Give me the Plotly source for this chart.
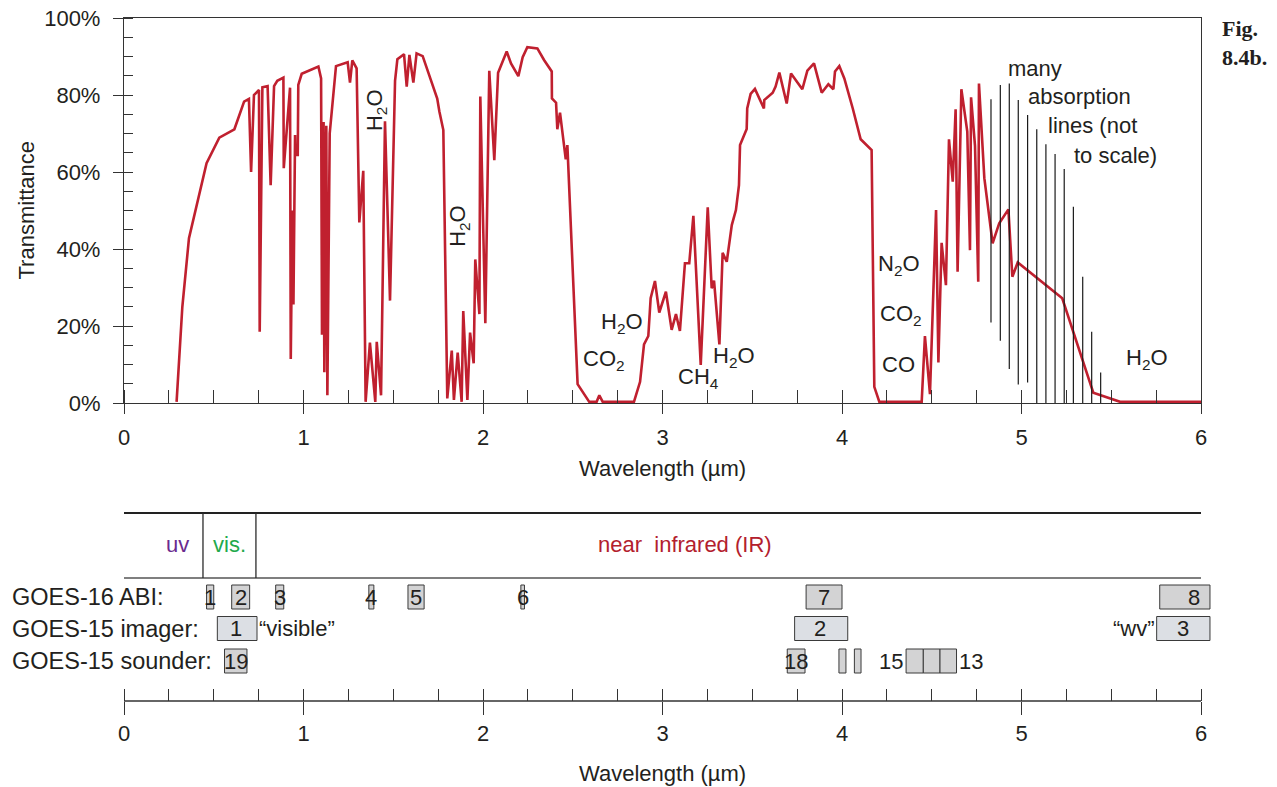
import plotly.graph_objects as go

W, H = 1277, 787
FONT = "Liberation Sans, Arial, Helvetica, sans-serif"
INK = "#231f20"
RED = "#c0202f"
FS = 22
FS_ROW = 23.5

# ---------------- data: atmospheric transmittance curve ----------------
wavelength_um = [
    0.293, 0.325, 0.362, 0.46, 0.531, 0.615, 0.669, 0.696, 0.708, 0.724,
    0.752, 0.756, 0.771, 0.80, 0.817, 0.836, 0.854, 0.888, 0.89, 0.925,
    0.929, 0.938, 0.944, 0.953, 0.955, 0.968, 0.971, 0.99, 1.083, 1.098,
    1.103, 1.112, 1.116, 1.127, 1.133, 1.146, 1.181, 1.246, 1.259, 1.272,
    1.296, 1.311, 1.333, 1.346, 1.37, 1.40, 1.408, 1.432, 1.454, 1.482,
    1.51, 1.523, 1.56, 1.575, 1.59, 1.612, 1.63, 1.664, 1.714, 1.745,
    1.757, 1.779, 1.801, 1.826, 1.838, 1.859, 1.881, 1.89, 1.913, 1.928,
    1.948, 1.957, 1.98, 1.985, 2.013, 2.035, 2.063, 2.084, 2.132, 2.156,
    2.197, 2.221, 2.247, 2.303, 2.34, 2.383, 2.384, 2.407, 2.414, 2.429,
    2.461, 2.47, 2.527, 2.559, 2.592, 2.633, 2.648, 2.667, 2.841, 2.875,
    2.897, 2.921, 2.934, 2.958, 2.982, 3.019, 3.051, 3.075, 3.097, 3.125,
    3.149, 3.172, 3.213, 3.252, 3.274, 3.287, 3.317, 3.335, 3.358, 3.386,
    3.409, 3.426, 3.432, 3.469, 3.472, 3.491, 3.515, 3.565, 3.567, 3.614,
    3.63, 3.651, 3.692, 3.716, 3.779, 3.807, 3.844, 3.887, 3.924, 3.952,
    3.961, 3.985, 4.013, 4.06, 4.104, 4.165, 4.18, 4.208, 4.444, 4.462,
    4.49, 4.524, 4.537, 4.555, 4.579, 4.587, 4.596, 4.617, 4.633, 4.644,
    4.665, 4.698, 4.713, 4.719, 4.741, 4.759, 4.763, 4.793, 4.839, 4.876,
    4.927, 4.949, 4.979, 5.227, 5.40, 5.549, 6.0,
]
transmittance_pct = [
    0.3, 25, 42.8, 62.3, 68.9, 71.1, 78.3, 79, 60, 80,
    81.3, 18.5, 82, 82.3, 56.6, 82.3, 83.7, 84.5, 61, 81.9,
    11.4, 50, 25.6, 69.6, 64.4, 64.4, 82.6, 85.5, 87.4, 84.3,
    17.7, 73, 8, 72, 2, 70, 87.5, 88.5, 83.2, 89,
    86.9, 46.9, 60.3, 0.3, 15.7, 0.3, 15.9, 2, 73.2, 26.6,
    83.7, 89.3, 90.6, 82.2, 90.4, 83.2, 90.8, 90.1, 83, 79.1,
    75.7, 70.9, 1.2, 13.6, 0.8, 13.1, 0.3, 23.9, 0.8, 18.3,
    10.3, 37.3, 23.1, 79.6, 20.7, 86.3, 63.1, 85.8, 91.3, 88.2,
    84.9, 89.8, 92.4, 92.1, 89.1, 86.1, 79.1, 78, 71.1, 75.4,
    63.3, 67, 4.9, 2.5, 0.3, 0.3, 2, 0.3, 0.3, 5.5,
    15.2, 17.4, 27.2, 31.7, 23.5, 28.9, 19, 23.1, 18.7, 36.3,
    36.3, 48.6, 9.9, 50.8, 29.8, 31.8, 15.2, 39, 36.7, 46.2,
    50.1, 56.6, 67, 71.2, 76.5, 80.3, 81.6, 76.5, 78.7, 80.6,
    82.2, 85.8, 77.8, 85.6, 81.5, 86.3, 88.2, 80.6, 82.8, 81.5,
    86.1, 87.5, 84.3, 76.5, 68.5, 65.7, 4.2, 0.3, 0.3, 17.4,
    2.3, 50.1, 10.5, 41.6, 30.6, 48.4, 68.5, 57.5, 76.3, 34.1,
    81.5, 70.5, 39.7, 79.4, 66.8, 31.5, 83, 58.4, 41.5, 46.7,
    50.3, 32.8, 36.5, 27.2, 2.7, 0.3, 0.3,
]

# "many absorption lines" (schematic vertical lines)
absorb_line_um = [4.830, 4.882, 4.932, 4.982, 5.034, 5.085, 5.136, 5.187,
                  5.238, 5.289, 5.341, 5.391, 5.441]
absorb_line_top = [78.9, 82.6, 83.0, 78.7, 74.8, 71.1, 67.2, 64.7,
                   60.8, 51.0, 32.8, 18.5, 7.9]
absorb_line_bottom = [20.9, 16.2, 8.8, 4.8, 5.3, 0, 0, 0, 0, 0, 0, 0, 0]

# gas labels on the transmittance panel
gas_labels = ["H<sub>2</sub>O", "H<sub>2</sub>O", "H<sub>2</sub>O", "CO<sub>2</sub>",
              "CH<sub>4</sub>", "H<sub>2</sub>O", "N<sub>2</sub>O", "CO<sub>2</sub>",
              "CO", "H<sub>2</sub>O"]
gas_label_um = [1.404, 1.866, 2.774, 2.674, 3.198, 3.398, 4.318, 4.329, 4.312, 5.699]
gas_label_pct = [76.1, 46.0, 20.8, 11.2, 6.5, 11.9, 35.8, 22.9, 9.9, 11.4]
gas_label_angle = [-90, -90, 0, 0, 0, 0, 0, 0, 0, 0]

note_lines = ["many", "absorption", "lines (not", "to scale)"]
note_um = [4.914, 5.025, 5.136, 5.281]
note_pct = [86.8, 79.5, 72.2, 64.4]

# axis ticks
x_major = [i * 0.5 for i in range(13)]
x_ticktext = [str(int(v)) if v == int(v) else "" for v in x_major]
y_major = list(range(0, 101, 10))
y_ticktext = [f"{v}%" if v % 20 == 0 else "" for v in y_major]

# ---------------- data: spectral regions & satellite channels ----------------
region_names = ["uv", "vis.", "near\u00a0 infrared (IR)"]
region_label_um = [0.30, 0.59, 3.125]
region_colors = ["#6a2a8e", "#22a94b", "#b3202d"]
region_bounds_um = [0.44, 0.735]

abi_names = ["1", "2", "3", "4", "5", "6", "7", "8"]
abi_start = [0.46, 0.60, 0.845, 1.364, 1.582, 2.211, 3.80, 5.77]
abi_end = [0.50, 0.70, 0.89, 1.392, 1.672, 2.231, 4.00, 6.05]
abi_label_um = [0.48, 0.65, 0.868, 1.378, 1.627, 2.221, 3.90, 5.96]

imager_names = ["1", "2", "3"]
imager_start = [0.52, 3.736, 5.753]
imager_end = [0.741, 4.032, 6.05]
imager_label_um = [0.625, 3.88, 5.90]

sounder_names = ["19", "18", "", "", "", "", ""]
sounder_start = [0.56, 3.695, 3.983, 4.069, 4.357, 4.453, 4.546]
sounder_end = [0.685, 3.794, 4.022, 4.106, 4.453, 4.546, 4.638]
sounder_label_um = [0.622, 3.745, None, None, None, None, None]

row_names = ["GOES-16 ABI:", "GOES-15 imager:", "GOES-15 sounder:"]

# ---------------- layout geometry (pixels) ----------------
X0_PX, X6_PX = 124, 1201
PX_PER_UM = (X6_PX - X0_PX) / 6.0
TOP_Y0_PX, TOP_Y100_PX = 403, 18
BOT_AXIS_PX = 701
BOT_TOP_PX = 500
BOT_BOTTOM_PX = 712
X2_MAX = 6.1


def py(p):  # pixel y -> paper
    return 1 - p / H


def px(p):  # pixel x -> paper
    return p / W


# bottom panel y coordinates (pixels above the lower axis)
ROW_Y = [BOT_AXIS_PX - 597, BOT_AXIS_PX - 628.5, BOT_AXIS_PX - 661]
BOX_HALF = 12
HEADER_TOP = BOT_AXIS_PX - 513
HEADER_BOTTOM = BOT_AXIS_PX - 578
HEADER_TEXT = BOT_AXIS_PX - 544

fig = go.Figure()

fig.add_trace(go.Scatter(
    x=wavelength_um, y=transmittance_pct, mode="lines",
    line=dict(color=RED, width=2.6), xaxis="x", yaxis="y",
    showlegend=False, hoverinfo="skip"))

lx, ly = [], []
for w, t, b in zip(absorb_line_um, absorb_line_top, absorb_line_bottom):
    lx += [w, w, None]
    ly += [b, t, None]
fig.add_trace(go.Scatter(
    x=lx, y=ly, mode="lines", line=dict(color="#1a1a1a", width=1.2),
    xaxis="x", yaxis="y", showlegend=False, hoverinfo="skip"))

# invisible trace to activate the lower subplot
fig.add_trace(go.Scatter(x=[0, 6], y=[0, 0], mode="lines",
                         line=dict(color="rgba(0,0,0,0)"), xaxis="x2", yaxis="y2",
                         showlegend=False, hoverinfo="skip"))

tickfont = dict(family=FONT, size=FS, color=INK)
axcol = "#333333"

fig.update_layout(
    template="none",
    width=W, height=H, autosize=False,
    margin=dict(l=0, r=0, t=0, b=0, pad=0, autoexpand=False),
    paper_bgcolor="white", plot_bgcolor="rgba(0,0,0,0)",
    showlegend=False,
    xaxis=dict(
        domain=[px(X0_PX), px(X6_PX)], range=[0, 6], anchor="y", automargin=False,
        showline=True, linecolor=axcol, linewidth=1.3, mirror=True,
        showgrid=False, zeroline=False,
        tickmode="array", tickvals=x_major, ticktext=x_ticktext,
        ticks="outside", ticklen=10, tickwidth=1.2, tickcolor=axcol,
        minor=dict(tickmode="array", tickvals=[i * 0.25 for i in range(25)],
                   ticks="inside", ticklen=13, tickwidth=1.2, tickcolor=axcol),
        tickfont=tickfont, ticklabelstandoff=4,
    ),
    yaxis=dict(
        domain=[py(TOP_Y0_PX), py(TOP_Y100_PX)], range=[0, 100], anchor="x",
        automargin=False,
        showline=True, linecolor=axcol, linewidth=1.3, mirror=True,
        showgrid=False, zeroline=False,
        tickmode="array", tickvals=y_major, ticktext=y_ticktext,
        ticks="outside", ticklen=10, tickwidth=1.2, tickcolor=axcol,
        minor=dict(tickmode="array", tickvals=list(range(0, 101, 5)),
                   ticks="inside", ticklen=9, tickwidth=1.2, tickcolor=axcol),
        tickfont=tickfont, ticklabelstandoff=8,
    ),
    xaxis2=dict(
        domain=[px(X0_PX), px(X0_PX + X2_MAX * PX_PER_UM)], range=[0, X2_MAX],
        anchor="free", position=py(BOT_AXIS_PX), automargin=False,
        showline=False, showgrid=False, zeroline=False,
        tickmode="array", tickvals=x_major, ticktext=x_ticktext,
        ticks="outside", ticklen=13, tickwidth=1.2, tickcolor=axcol,
        minor=dict(tickmode="array", tickvals=[i * 0.25 for i in range(25)],
                   ticks="inside", ticklen=12, tickwidth=1.2, tickcolor=axcol),
        tickfont=tickfont, ticklabelstandoff=0,
    ),
    yaxis2=dict(
        domain=[py(BOT_BOTTOM_PX), py(BOT_TOP_PX)],
        range=[BOT_AXIS_PX - BOT_BOTTOM_PX, BOT_AXIS_PX - BOT_TOP_PX],
        anchor="x2", visible=False, automargin=False,
    ),
)

shapes = []
# lower axis line
shapes.append(dict(type="line", xref="x2", yref="y2", x0=0, x1=6, y0=0, y1=0,
                   line=dict(color=axcol, width=1.3)))
# spectral region header
shapes.append(dict(type="line", xref="x2", yref="y2", x0=0, x1=6,
                   y0=HEADER_TOP, y1=HEADER_TOP, line=dict(color="#222222", width=1.8)))
shapes.append(dict(type="line", xref="x2", yref="y2", x0=0, x1=6,
                   y0=HEADER_BOTTOM, y1=HEADER_BOTTOM, line=dict(color="#555555", width=1.4)))
for b in region_bounds_um:
    shapes.append(dict(type="line", xref="x2", yref="y2", x0=b, x1=b,
                       y0=HEADER_BOTTOM, y1=HEADER_TOP, line=dict(color="#2b2b2b", width=1.3)))

annotations = []


def box_row(names, starts, ends, label_x, yc, fill):
    for n, s, e, lxp in zip(names, starts, ends, label_x):
        shapes.append(dict(type="rect", xref="x2", yref="y2", x0=s, x1=e,
                           y0=yc - BOX_HALF, y1=yc + BOX_HALF, fillcolor=fill,
                           line=dict(color="#3a3a3a", width=1), layer="below"))
        if n:
            annotations.append(dict(xref="x2", yref="y2", x=lxp, y=yc, text=n,
                                    showarrow=False, xanchor="center", yanchor="middle",
                                    font=dict(family=FONT, size=FS, color=INK)))


box_row(abi_names, abi_start, abi_end, abi_label_um, ROW_Y[0], "#d3d3d4")
box_row(imager_names, imager_start, imager_end, imager_label_um, ROW_Y[1], "#dcdfe4")
box_row(sounder_names, sounder_start, sounder_end, sounder_label_um, ROW_Y[2], "#d3d3d4")

for name, yc in zip(row_names, ROW_Y):
    annotations.append(dict(xref="paper", yref="y2", x=px(10), y=yc, text=name,
                            showarrow=False, xanchor="left", yanchor="middle",
                            font=dict(family=FONT, size=FS_ROW, color=INK)))

extra = [("\u201cvisible\u201d", 0.741, ROW_Y[1], "left"),
         ("\u201cwv\u201d", 5.755, ROW_Y[1], "right"),
         ("15", 4.352, ROW_Y[2], "right"),
         ("13", 4.643, ROW_Y[2], "left")]
for t, xx, yy, anc in extra:
    annotations.append(dict(xref="x2", yref="y2", x=xx, y=yy, text=t, showarrow=False,
                            xanchor=anc, yanchor="middle",
                            font=dict(family=FONT, size=FS, color=INK)))

for n, xx, c in zip(region_names, region_label_um, region_colors):
    annotations.append(dict(xref="x2", yref="y2", x=xx, y=HEADER_TEXT, text=n,
                            showarrow=False, xanchor="center", yanchor="middle",
                            font=dict(family=FONT, size=FS, color=c)))

for t, xx, yy, ang in zip(gas_labels, gas_label_um, gas_label_pct, gas_label_angle):
    annotations.append(dict(xref="x", yref="y", x=xx, y=yy, text=t, textangle=ang,
                            showarrow=False, xanchor="center", yanchor="middle",
                            font=dict(family=FONT, size=FS, color=INK)))

for t, xx, yy in zip(note_lines, note_um, note_pct):
    annotations.append(dict(xref="x", yref="y", x=xx, y=yy, text=t,
                            showarrow=False, xanchor="left", yanchor="middle",
                            font=dict(family=FONT, size=FS, color=INK)))

# axis titles
annotations.append(dict(xref="paper", yref="paper", x=px(26), y=py(210.5),
                        text="Transmittance", textangle=-90, showarrow=False,
                        xanchor="center", yanchor="middle",
                        font=dict(family=FONT, size=FS, color=INK)))
for ty in (468, 773):
    annotations.append(dict(xref="paper", yref="paper", x=px((X0_PX + X6_PX) / 2),
                            y=py(ty), text="Wavelength (\u00b5m)", showarrow=False,
                            xanchor="center", yanchor="middle",
                            font=dict(family=FONT, size=FS, color=INK)))

# figure tag
annotations.append(dict(xref="paper", yref="paper", x=px(1220), y=py(14),
                        text="<b>Fig.<br>8.4b.</b>", showarrow=False, align="left",
                        xanchor="left", yanchor="top",
                        font=dict(family="Liberation Serif, DejaVu Serif, serif",
                                  size=22, color=INK)))

fig.update_layout(shapes=shapes, annotations=annotations)
fig.write_html("out.html")
